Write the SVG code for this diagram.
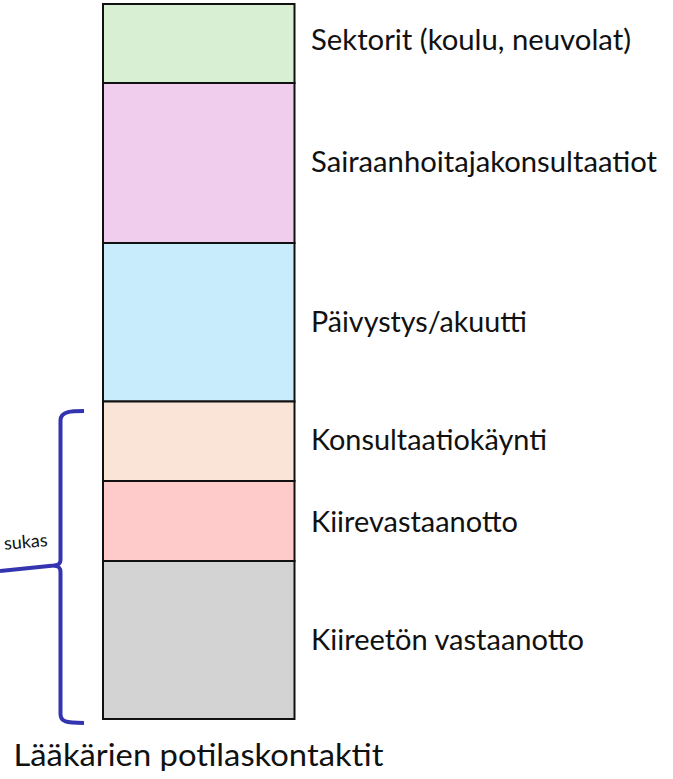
<svg xmlns="http://www.w3.org/2000/svg" width="673" height="779" viewBox="0 0 673 779">
  <style>
    .seg { stroke: #111; stroke-width: 2; }
    .lbl { font-family: Lato, "Open Sans", "Liberation Sans", sans-serif; font-size: 28px; fill: #111; }
    .title { font-family: Lato, "Open Sans", "Liberation Sans", sans-serif; font-size: 31px; fill: #111; }
    .brace { fill: none; stroke: #3434b0; stroke-width: 4; stroke-linecap: butt; stroke-linejoin: round; }
    .note { font-family: Lato, "Open Sans", "Liberation Sans", sans-serif; font-size: 18px; fill: #111; }
  </style>
  <rect width="673" height="779" fill="#ffffff"/>
  <g id="sektorit">
    <rect class="seg" x="103" y="4" width="191.5" height="79" fill="#d9efd3"/>
    <text class="lbl" x="311" y="50" textLength="320" lengthAdjust="spacingAndGlyphs">Sektorit (koulu, neuvolat)</text>
  </g>
  <g id="sairaanhoitaja">
    <rect class="seg" x="103" y="83" width="191.5" height="160" fill="#f0cdec"/>
    <text class="lbl" x="311" y="172" textLength="346" lengthAdjust="spacingAndGlyphs">Sairaanhoitajakonsultaatiot</text>
  </g>
  <g id="paivystys">
    <rect class="seg" x="103" y="243" width="191.5" height="158.5" fill="#c8ecfb"/>
    <text class="lbl" x="311" y="332" textLength="216" lengthAdjust="spacingAndGlyphs">Päivystys/akuutti</text>
  </g>
  <g id="konsultaatio">
    <rect class="seg" x="103" y="401.5" width="191.5" height="79.5" fill="#fae3d7"/>
    <text class="lbl" x="311" y="450" textLength="236" lengthAdjust="spacingAndGlyphs">Konsultaatiokäynti</text>
  </g>
  <g id="kiire">
    <rect class="seg" x="103" y="481" width="191.5" height="80" fill="#fecaca"/>
    <text class="lbl" x="311" y="532" textLength="207" lengthAdjust="spacingAndGlyphs">Kiirevastaanotto</text>
  </g>
  <g id="kiireeton">
    <rect class="seg" x="103" y="561" width="191.5" height="158" fill="#d3d3d3"/>
    <text class="lbl" x="311" y="650" textLength="273" lengthAdjust="spacingAndGlyphs">Kiireetön vastaanotto</text>
  </g>
  <g id="connectors">
    <path class="brace" d="M84,411 C72,411 61,411 60.5,420 L60.5,560 C60.5,564 58,565 54,565.5 L0,571"/>
    <path class="brace" d="M54,565.5 C58,566 60.5,567 60.5,572 L60.5,714 C60.5,722 66,722.5 84,723"/>
  </g>
  <g id="note">
    <text class="note" x="48" y="546" text-anchor="end" transform="rotate(-5 48 546)">sukas</text>
  </g>
  <g id="otsikko">
    <text class="title" x="198.5" y="766" text-anchor="middle" textLength="370" lengthAdjust="spacingAndGlyphs">Lääkärien potilaskontaktit</text>
  </g>
</svg>
